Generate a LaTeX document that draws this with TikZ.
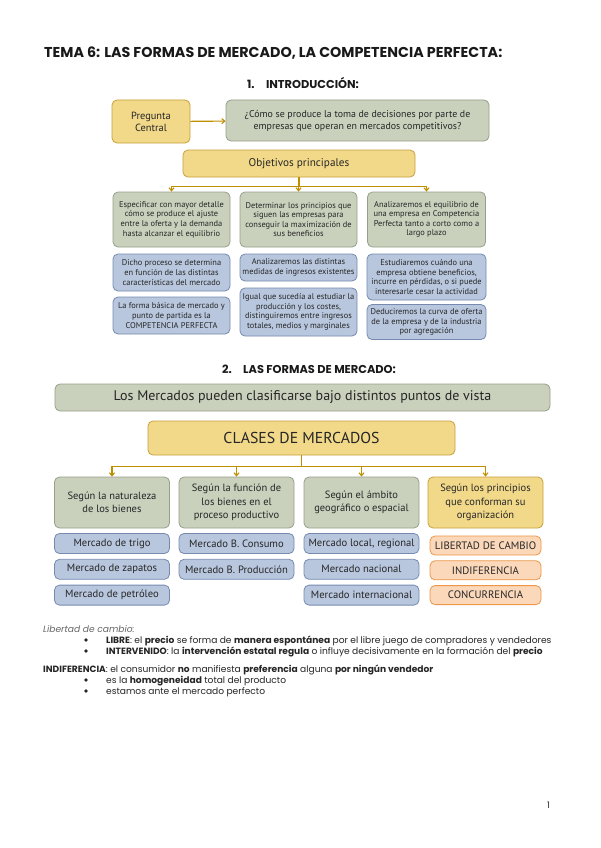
\documentclass[tikz,border=0pt]{standalone}
\usepackage{fontspec}
\setmainfont{PT Sans}
\newfontfamily\titulo{Poppins}
\usetikzlibrary{arrows.meta, positioning}

\definecolor{amarilloF}{RGB}{242,217,138}
\definecolor{amarilloB}{RGB}{201,160,60}
\definecolor{dorado}{RGB}{191,143,0}
\definecolor{verdeF}{RGB}{201,209,189}
\definecolor{verdeB}{RGB}{150,160,138}
\definecolor{azulF}{RGB}{184,199,222}
\definecolor{azulB}{RGB}{118,138,176}
\definecolor{naranjaF}{RGB}{251,216,186}
\definecolor{naranjaB}{RGB}{237,150,72}

\begin{document}
\begin{tikzpicture}[x=1pt, y=-1pt,
    >={Straight Barb[length=3pt, width=5pt]},
    caja/.style={draw, rounded corners=5pt, align=center, inner sep=1pt, line width=0.8pt, text=black!85},
    amarilla/.style={caja, draw=amarilloB, fill=amarilloF},
    verde/.style={caja, draw=verdeB, fill=verdeF},
    azul/.style={caja, draw=azulB, fill=azulF},
    naranja/.style={caja, draw=naranjaB, fill=naranjaF},
    objetivo/.style={verde, minimum width=117pt, minimum height=55pt, font=\fontsize{8.4}{9.6}\selectfont},
    detalle/.style={azul, minimum width=117pt, font=\fontsize{8.4}{9.6}\selectfont},
    criterio/.style={minimum width=115pt, minimum height=51pt, font=\fontsize{10.5}{13.3}\selectfont},
    item/.style={azul, minimum width=115pt, minimum height=20pt, font=\fontsize{10.6}{12}\selectfont},
    principio/.style={naranja, minimum width=111pt, minimum height=19pt, font=\fontsize{10.8}{12}\selectfont},
    conector/.style={->, draw=dorado, line width=1.1pt},
    linea/.style={draw=dorado, line width=1.1pt},
    encabezado/.style={font=\titulo\bfseries, text=black!90},
    cuerpo/.style={anchor=base west, inner sep=0pt, font=\titulo\fontsize{9.1}{10}\selectfont, text=black!85},
    vineta/.style={circle, fill=black!85, inner sep=0pt, minimum size=3.6pt},
]
\fill[white] (0,0) rectangle (600,848);

% titulos
\node[encabezado, anchor=base west, inner sep=0pt, font=\titulo\bfseries\fontsize{14.3}{16}\selectfont] (tema) at (44,58) {TEMA 6: LAS FORMAS DE MERCADO, LA COMPETENCIA PERFECTA:};
\node[encabezado, anchor=base, inner sep=0pt, font=\titulo\bfseries\fontsize{11.4}{13}\selectfont] (sec1) at (303,89) {1.\hspace{1em}INTRODUCCIÓN:};

% 1. introduccion
\node[amarilla, minimum width=78pt, minimum height=43pt, font=\fontsize{10.4}{12.2}\selectfont] (preg) at (151,121.5) {Pregunta\\Central};
\node[verde, minimum width=263pt, minimum height=41pt, font=\fontsize{9.9}{12}\selectfont] (cuestion) at (357.5,120.5) {¿Cómo se produce la toma de decisiones por parte de\\empresas que operan en mercados competitivos?};
\draw[conector] (preg) -- (cuestion);

\node[amarilla, minimum width=232pt, minimum height=27pt, font=\fontsize{11.2}{12}\selectfont] (obj) at (299,163.5) {Objetivos principales};

\node[objetivo] (g1) at (171.5,219.5) {Especificar con mayor detalle\\cómo se produce el ajuste\\entre la oferta y la demanda\\hasta alcanzar el equilibrio};
\node[objetivo] (g2) at (298.5,219.5) {Determinar los principios que\\siguen las empresas para\\conseguir la maximización de\\sus beneficios};
\node[objetivo, minimum width=118pt] (g3) at (426.5,219.5) {Analizaremos el equilibrio de\\una empresa en Competencia\\Perfecta tanto a corto como a\\largo plazo};
\draw[linea] (obj.south) -- ++(0,9) coordinate (j1);
\foreach \n in {g1,g2,g3} \draw[conector] (j1) -| (\n.north);

\node[detalle, minimum height=37pt] (d1a) at (171.5,272.5) {Dicho proceso se determina\\en función de las distintas\\características del mercado};
\node[detalle, minimum height=37pt] (d1b) at (171.5,315.5) {La forma básica de mercado y\\punto de partida es la\\COMPETENCIA PERFECTA};
\node[detalle, minimum height=27pt] (d2a) at (298.5,267.5) {Analizaremos las distintas\\medidas de ingresos existentes};
\node[detalle, minimum height=48pt] (d2b) at (298.5,312) {Igual que sucedía al estudiar la\\producción y los costes,\\distinguiremos entre ingresos\\totales, medios y marginales};
\node[detalle, minimum width=119pt, minimum height=46pt] (d3a) at (426.5,277) {Estudiaremos cuándo una\\empresa obtiene beneficios,\\incurre en pérdidas, o si puede\\interesarle cesar la actividad};
\node[detalle, minimum width=119pt, minimum height=35pt] (d3b) at (426.5,322) {Deduciremos la curva de oferta\\de la empresa y de la industria\\por agregación};

% 2. las formas de mercado
\node[encabezado, anchor=base, inner sep=0pt, font=\titulo\bfseries\fontsize{11.4}{13}\selectfont] (sec2) at (309,373) {2.\hspace{1em}LAS FORMAS DE MERCADO:};

\node[verde, minimum width=495pt, minimum height=27pt, font=\fontsize{14}{15}\selectfont] (vista) at (302.5,397.5) {Los Mercados pueden clasificarse bajo distintos puntos de vista};
\node[amarilla, minimum width=307pt, minimum height=34pt, font=\fontsize{15.8}{17}\selectfont] (clases) at (301.5,438) {CLASES DE MERCADOS};

\node[verde, criterio] (c1) at (112,502.5) {Según la naturaleza\\de los bienes};
\node[verde, criterio] (c2) at (236.5,502.5) {Según la función de\\los bienes en el\\proceso productivo};
\node[verde, criterio] (c3) at (361.5,502.5) {Según el ámbito\\geográfico o espacial};
\node[amarilla, criterio] (c4) at (485.5,502.5) {Según los principios\\que conforman su\\organización};
\draw[linea] (clases.south) -- ++(0,11) coordinate (j2);
\foreach \n in {c1,c2,c3,c4} \draw[conector] (j2) -| (\n.north);

\node[item] (m11) at (112,543.5) {Mercado de trigo};
\node[item, below=5pt of m11] (m12) {Mercado de zapatos};
\node[item, below=5pt of m12] (m13) {Mercado de petróleo};
\node[item] (m21) at (236.5,543.5) {Mercado B. Consumo};
\node[item, below=5pt of m21] (m22) {Mercado B. Producción};
\node[item] (m31) at (361.5,543.5) {Mercado local, regional};
\node[item, below=5pt of m31] (m32) {Mercado nacional};
\node[item, below=5pt of m32] (m33) {Mercado internacional};
\node[principio] (p1) at (485.5,545.5) {LIBERTAD DE CAMBIO};
\node[principio, below=5pt of p1] (p2) {INDIFERENCIA};
\node[principio, below=5pt of p2] (p3) {CONCURRENCIA};

% notas
\node[cuerpo, font=\titulo\itshape\fontsize{9.1}{10}\selectfont, text=black!60] (libertad) at (43,632) {Libertad de cambio:};
\node[vineta] (v1) at (86,640) {};
\node[cuerpo] (libre) at (106,643) {\textbf{LIBRE}: el \textbf{precio} se forma de \textbf{manera espontánea} por el libre juego de compradores y vendedores};
\node[vineta] (v2) at (86,651) {};
\node[cuerpo] (interv) at (106,654) {\textbf{INTERVENIDO}: la \textbf{intervención estatal regula} o influye decisivamente en la formación del \textbf{precio}};
\node[cuerpo] (indif) at (43,672) {\textbf{INDIFERENCIA}: el consumidor \textbf{no} manifiesta \textbf{preferencia} alguna \textbf{por ningún vendedor}};
\node[vineta] (v3) at (86,680) {};
\node[cuerpo] (homog) at (106,683) {es la \textbf{homogeneidad} total del producto};
\node[vineta] (v4) at (86,691) {};
\node[cuerpo] (perf) at (106,694) {estamos ante el mercado perfecto};

\node[cuerpo, font=\titulo\fontsize{9}{10}\selectfont] (pagina) at (547,808) {1};
\end{tikzpicture}
\end{document}
